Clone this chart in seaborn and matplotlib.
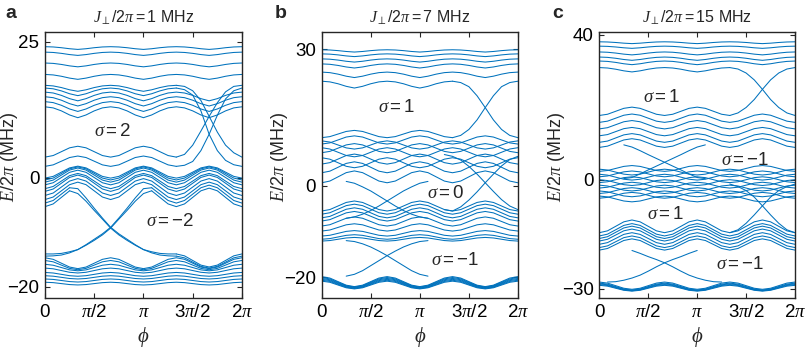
import numpy as np
import pandas as pd
import matplotlib
matplotlib.use("Agg")
import matplotlib.pyplot as plt
import seaborn as sns

# phi grid: every pi/12 from 0 to 2pi (index k = 0..24)
phi = np.arange(25) * np.pi / 12

# shape of a bulk line across phi (period 2pi/3)
wave_round = [1.0, 0.71, 0.0, -0.71, -1.0, -0.71, 0.0, 0.71, 1.0, 0.71, 0.0, -0.71, -1.0,
              -0.71, 0.0, 0.71, 1.0, 0.71, 0.0, -0.71, -1.0, -0.71, 0.0, 0.71, 1.0]
wave_sharp = [1.0, 0.8, 0.25, -0.5, -1.0, -0.5, 0.25, 0.8, 1.0, 0.8, 0.25, -0.5, -1.0,
              -0.5, 0.25, 0.8, 1.0, 0.8, 0.25, -0.5, -1.0, -0.5, 0.25, 0.8, 1.0]

# ---- (a) J_perp/2pi = 1 MHz : energy at phi=0 and half swing of every bulk line
a_top_e0 = [24.1, 23.1, 21.1, 19.0, 17.0, 16.5, 15.75, 14.9, 14.0, 13.05]
a_top_amp = [0.25, 0.3, 0.35, 0.45, 0.55, 0.7, 0.8, 0.85, 0.9, 1.0]
a_mid_e0 = [3.8, 2.1, -0.06, -0.4, -0.8, -1.3, -2.0, -2.5, -3.25, -4.0, -4.65, -5.3]
a_mid_amp = [1.0, 0.95, 1.1, 1.2, 1.3, 1.35, 1.4, 1.5, 1.55, 1.6, 1.65, 1.7]
a_bot_e0 = [-14.0, -14.4, -14.7, -15.2, -15.9, -16.6, -17.4, -18.0, -18.6, -19.2]
a_bot_amp = [1.2, 1.1, 1.0, 0.85, 0.6, 0.45, 0.35, 0.3, 0.28, 0.25]
# edge states: (first k, values)
a_edges = [
    (16, [17.0, 16.8, 16.0, 14.2, 11.3, 8.4, 6.0, 4.6, 3.8]),
    (16, [3.8, 4.3, 6.0, 8.6, 11.3, 13.8, 15.8, 16.8, 17.0]),
    (16, [16.5, 16.2, 15.2, 12.3, 8.0, 5.0, 3.2, 2.4, 2.1]),
    (16, [2.1, 2.3, 3.0, 5.0, 8.0, 11.5, 14.5, 16.0, 16.5]),
    (0, [-14.0, -14.0, -13.9, -13.6, -13.2, -12.4, -11.5, -10.5, -9.25, -7.6, -6.0, -4.3, -2.9, -2.39]),
    (3, [-2.39, -2.9, -4.3, -6.0, -7.6, -9.25, -10.5, -11.5, -12.4, -13.2, -13.6, -13.9, -14.0, -14.0]),
    (0, [-14.4, -14.35, -14.2, -13.8, -13.2, -12.3, -11.3, -10.3, -9.1, -7.4, -5.6, -3.7, -2.0, -1.83]),
    (3, [-1.83, -2.0, -3.7, -5.6, -7.4, -9.1, -10.3, -11.3, -12.3, -13.2, -13.8, -14.2, -14.35, -14.4]),
]

# ---- (b) J_perp/2pi = 7 MHz
b_top_e0 = [29.9, 29.0, 27.9, 26.8, 25.0, 23.0]
b_top_amp = [0.25, 0.3, 0.35, 0.45, 0.6, 0.75]
b_midT_e0 = [10.6, 9.2, 7.3, 4.8, 2.9, 0.7]
b_midT_amp = [0.8, 0.9, 1.0, 1.1, 1.2, 1.3]
b_midP_e0 = [9.9, 8.4, 6.2]
b_midP_amp = [0.9, 1.0, 1.1]
b_low_e0 = [-5.5, -6.2, -7.0, -7.7, -8.8, -9.9, -11.0, -11.7, -12.1]
b_low_amp = [1.1, 1.1, 1.1, 1.05, 1.0, 0.8, 0.6, 0.5, 0.4]
b_bot_e0 = [-19.9, -20.1, -20.3, -20.5, -20.7, -20.9]
b_bot_amp = [1.1, 1.05, 1.0, 0.95, 0.9, 0.85]
b_edges = [
    (16, [23.0, 22.7, 21.8, 19.8, 17.2, 14.5, 12.4, 11.1, 10.6]),
    (16, [10.6, 11.1, 12.4, 14.5, 17.2, 19.8, 21.8, 22.7, 23.0]),
    (3, [1.0, 0.6, -0.2, -1.1, -2.2, -3.3, -4.4, -5.4, -6.2, -6.8, -7.1]),
    (3, [-7.1, -6.8, -6.2, -5.4, -4.4, -3.3, -2.2, -1.1, -0.2, 0.6, 1.0]),
    (15, [6.9, 6.5, 5.7, 4.3, 2.6, 0.7, -1.2, -3.0, -4.4, -5.2]),
    (15, [-5.2, -5.5, -4.6, -3.1, -1.3, 0.7, 2.6, 4.4, 5.8, 6.5]),
    (3, [-12.0, -12.2, -12.7, -13.4, -14.3, -15.3, -16.4, -17.5, -18.6, -19.4, -19.8]),
    (3, [-19.8, -19.4, -18.6, -17.5, -16.4, -15.3, -14.3, -13.4, -12.7, -12.2, -12.0]),
]

# ---- (c) J_perp/2pi = 15 MHz
c_top_e0 = [38.0, 36.8, 35.2, 33.8, 32.7, 30.9]
c_top_amp = [0.25, 0.3, 0.4, 0.45, 0.5, 0.6]
c_up_e0 = [17.7, 15.8, 14.0, 12.1, 10.3, 8.9]
c_up_amp = [1.15, 1.15, 1.15, 1.15, 1.2, 1.2]
c_midP_e0 = [2.9, 1.5, 0.0, -1.5, -3.1, -4.5]
c_midT_e0 = [2.3, 0.8, -0.8, -2.3, -3.8, -5.1]
c_mid_amp = [0.8, 0.8, 0.8, 0.8, 0.8, 0.8]
c_low_e0 = [-14.6, -15.5, -16.2, -16.9, -17.8, -18.7, -19.4]
c_low_amp = [1.75, 1.7, 1.7, 1.65, 1.6, 1.6, 1.55]
c_bot_e0 = [-28.2, -28.5, -28.7, -28.9, -29.1]
c_bot_amp = [1.0, 0.95, 0.9, 0.85, 0.8]
c_edges = [
    (16, [30.9, 30.5, 29.4, 27.5, 24.9, 22.1, 19.9, 18.4, 17.7]),
    (16, [17.7, 18.4, 19.9, 22.1, 24.9, 27.5, 29.4, 30.5, 30.9]),
    (3, [9.6, 9.0, 8.0, 6.9, 5.85, 4.8, 3.75, 2.7, 1.6, 0.6, 0.3]),
    (3, [0.3, 0.6, 1.6, 2.7, 3.75, 4.8, 5.85, 6.9, 8.0, 9.0, 9.6]),
    (16, [-1.2, -1.9, -3.0, -4.8, -7.2, -9.7, -12.0, -13.8, -14.6]),
    (16, [-14.6, -13.8, -12.0, -9.7, -7.2, -4.8, -3.0, -1.9, -1.2]),
    (4, [-19.5, -20.3, -21.2, -22.0, -22.9, -24.0, -25.2, -26.3, -27.1, -27.7, -28.1, -28.2]),
    (1, [-28.2, -28.1, -27.7, -27.1, -26.3, -25.2, -24.0, -22.9, -22.0, -21.2, -20.3, -19.5]),
]

BLUE = "#0072BD"
FRAME = "#262626"


def band_lines(e0, amp, wave, kind, gaps=None):
    # kind "peak": line is at its maximum at phi=0, "dip": at its minimum
    w = np.asarray(wave, float)
    out = []
    for i, (e, a) in enumerate(zip(e0, amp)):
        y = e + a * (w - 1) if kind == "peak" else e + a * (1 - w)
        if gaps and i in gaps:
            lo, hi = gaps[i]
            y[lo + 1:hi] = np.nan  # this stretch is taken over by an edge state
        out.append(y)
    return out


def edge_lines(edges):
    out = []
    for start, vals in edges:
        y = np.full(len(phi), np.nan)
        y[start:start + len(vals)] = vals
        out.append(y)
    return out


def to_long(lines):
    # one unit per unbroken run, so gaps stay gaps
    rows, seg = [], 0
    for y in lines:
        ok = ~np.isnan(y)
        k = 0
        while k < len(y):
            if not ok[k]:
                k += 1
                continue
            j = k
            while j < len(y) and ok[j]:
                j += 1
            rows += [(phi[i], y[i], seg) for i in range(k, j)]
            seg += 1
            k = j
    return pd.DataFrame(rows, columns=["phi", "E", "seg"])


panels = {
    "a": {
        "lines": band_lines(a_top_e0, a_top_amp, wave_sharp, "peak", {4: (16, 25), 5: (16, 25)})
        + band_lines(a_mid_e0, a_mid_amp, wave_round, "dip",
                     {0: (16, 25), 1: (16, 25), 10: (3, 13), 11: (3, 13)})
        + band_lines(a_bot_e0, a_bot_amp, wave_round, "peak", {0: (0, 16), 1: (0, 16)})
        + edge_lines(a_edges),
        "ylim": (-22.1, 26.8), "yticks": [-20, 0, 25], "J": "1",
        "sigma": [(0.69, 8.5, r"$\sigma = 2$"), (1.27, -8.0, r"$\sigma = -2$")],
        "pos": [0.0558, 0.1461, 0.2444, 0.7622], "ylab_x": -0.125,
    },
    "b": {
        "lines": band_lines(b_top_e0, b_top_amp, wave_sharp, "peak", {5: (16, 25)})
        + band_lines(b_midT_e0, b_midT_amp, wave_round, "dip", {0: (16, 25)})
        + band_lines(b_midP_e0, b_midP_amp, wave_round, "peak")
        + band_lines(b_low_e0, b_low_amp, wave_round, "dip")
        + band_lines(b_bot_e0, b_bot_amp, wave_round, "peak")
        + edge_lines(b_edges),
        "ylim": (-24.6, 33.8), "yticks": [-20, 0, 30], "J": "7",
        "sigma": [(0.76, 17.2, r"$\sigma = 1$"), (1.26, -1.7, r"$\sigma = 0$"),
                  (1.36, -16.4, r"$\sigma = -1$")],
        "pos": [0.3991, 0.1461, 0.2435, 0.7622], "ylab_x": -0.16,
    },
    "c": {
        "lines": band_lines(c_top_e0, c_top_amp, wave_sharp, "peak", {5: (16, 25)})
        + band_lines(c_up_e0, c_up_amp, wave_round, "dip", {0: (16, 25)})
        + band_lines(c_midP_e0, c_mid_amp, wave_round, "peak")
        + band_lines(c_midT_e0, c_mid_amp, wave_round, "dip")
        + band_lines(c_low_e0, c_low_amp, wave_round, "dip")
        + band_lines(c_bot_e0, c_bot_amp, wave_round, "peak")
        + edge_lines(c_edges),
        "ylim": (-32.6, 40.7), "yticks": [-30, 0, 40], "J": "15",
        "sigma": [(0.64, 22.7, r"$\sigma = 1$"), (1.49, 5.2, r"$\sigma = -1$"),
                  (0.68, -9.5, r"$\sigma = 1$"), (1.44, -23.4, r"$\sigma = -1$")],
        "pos": [0.7436, 0.1461, 0.2428, 0.7622], "ylab_x": -0.167,
    },
}

sns.set_style("ticks")
plt.rcParams["font.family"] = ["Liberation Sans", "DejaVu Sans"]
plt.rcParams["mathtext.fontset"] = "custom"
plt.rcParams["mathtext.rm"] = "Liberation Sans"
plt.rcParams["mathtext.it"] = "Liberation Serif:italic"
plt.rcParams["mathtext.bf"] = "Liberation Sans:bold"

fig = plt.figure(figsize=(8.06, 3.49), dpi=100)

for letter, p in panels.items():
    ax = fig.add_axes(p["pos"])
    df = to_long(p["lines"])
    sns.lineplot(data=df, x="phi", y="E", units="seg", estimator=None, color=BLUE,
                 lw=0.75, ax=ax, legend=False)

    ax.set_xlim(0, 2 * np.pi)
    ax.set_ylim(*p["ylim"])
    ax.set_xticks([0, np.pi / 2, np.pi, 3 * np.pi / 2, 2 * np.pi])
    ax.set_xticklabels(["0", r"$\pi$/2", r"$\pi$", r"3$\pi$/2", r"2$\pi$"])
    ax.set_yticks(p["yticks"])
    ax.set_yticklabels([f"{t}".replace("-", "\u2212") for t in p["yticks"]])
    ax.tick_params(direction="in", length=3.5, width=0.8, color=FRAME, labelsize=13.5,
                   top=True, right=True, pad=4, labelcolor="black")
    for sp in ax.spines.values():
        sp.set_visible(True)
        sp.set_color(FRAME)
        sp.set_linewidth(1.0)

    ax.set_xlabel(r"$\phi$", fontsize=15)
    ax.xaxis.set_label_coords(0.5, -0.1)
    ax.set_ylabel(r"$E/2\pi$ (MHz)", fontsize=13)
    ax.yaxis.set_label_coords(p["ylab_x"], 0.53)
    ax.set_title(r"$J_{\perp}/2\pi = " + p["J"] + r"$ MHz", fontsize=11.5, pad=7)

    for x, y, s in p["sigma"]:
        ax.text(x * np.pi, y, s, fontsize=13.5, ha="center", va="center")

    x0 = p["pos"][0] - (0.049 if letter == "a" else 0.058)
    fig.text(x0, 0.948, letter, fontsize=14, fontweight="bold", va="baseline")

fig.savefig("out.png", dpi=100)
